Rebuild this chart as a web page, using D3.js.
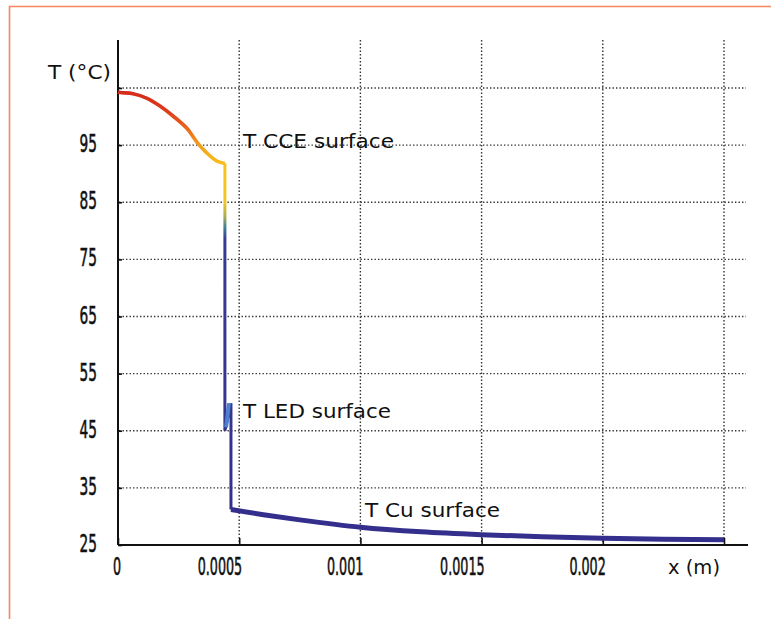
<!DOCTYPE html>
<html>
<head>
<meta charset="utf-8">
<script src="https://cdn.jsdelivr.net/npm/d3@7"></script>
<style>
  body { margin: 0; background: #fff; }
  text { font-family: "DejaVu Sans", sans-serif; fill: #111; }
</style>
</head>
<body>
<script>
/* data: x in metres, T in degrees C */
var cceX = [0, 0.0000083, 0.000062, 0.00012, 0.000173, 0.000227, 0.000285, 0.000326, 0.000367, 0.000408, 0.000441];
var cceT = [104.3, 104.2, 104.0, 103.2, 101.85, 100.1, 97.9, 95.5, 93.6, 92.2, 91.8];
var dropX = [0.000441, 0.000441, 0.000466, 0.000466];
var dropT = [91.8, 45.0, 49.8, 31.2];
var ledX = [0.000446, 0.000458];
var ledT = [45.6, 49.8];
var cuX = [0.000466, 0.0006, 0.00075, 0.001, 0.00125, 0.0015, 0.00175, 0.002, 0.00225, 0.0025];
var cuT = [31.2, 30.3, 29.4, 28.1, 27.3, 26.8, 26.45, 26.2, 26.0, 25.9];

var xTicks = [0, 0.0005, 0.001, 0.0015, 0.002, 0.0025];
var xTickLabels = ["0", "0.0005", "0.001", "0.0015", "0.002", ""];
var yTicks = [25, 35, 45, 55, 65, 75, 85, 95, 105];
var yTickLabels = ["25", "35", "45", "55", "65", "75", "85", "95", ""];

/* temperature colour map along the curve */
var mapT = [25, 78.5, 80.5, 82.5, 85, 91, 93, 95.5, 98, 101, 105];
var mapC = ["#342f8c", "#363a92", "#3d7c9c", "#a8ae52", "#f2c626", "#f7c41e", "#f5b41c", "#f0981c", "#e8661a", "#dc3a1b", "#d4281c"];

var w = 771, h = 619;

var svg = d3.select("body").append("svg")
    .attr("width", w)
    .attr("height", h);

/* orange frame of the figure */
svg.append("path")
    .attr("d", "M9.5,619V6.5H771")
    .attr("fill", "none")
    .attr("stroke", "#f4855c")
    .attr("stroke-width", 1.6);

var x = d3.scaleLinear().domain([0, 0.0025]).range([118, 724]);
var y = d3.scaleLinear().domain([25, 105]).range([545, 88]);

/* dotted grid */
svg.append("g").selectAll("line").data(yTicks.slice(1)).enter().append("line")
    .attr("x1", 119).attr("x2", 746)
    .attr("y1", function(d) { return y(d); })
    .attr("y2", function(d) { return y(d); })
    .attr("stroke", "#333")
    .attr("stroke-width", 1.4)
    .attr("stroke-dasharray", "1.4,2.1");

svg.append("g").selectAll("line").data(xTicks.slice(1)).enter().append("line")
    .attr("x1", function(d) { return x(d); })
    .attr("x2", function(d) { return x(d); })
    .attr("y1", 40).attr("y2", 545)
    .attr("stroke", "#333")
    .attr("stroke-width", 1.4)
    .attr("stroke-dasharray", "1.4,2.1");

/* axes */
var yAxis = d3.axisLeft(y).tickValues(yTicks).tickSize(-4).tickFormat("");
var xAxis = d3.axisBottom(x).tickValues(xTicks).tickSize(-7).tickFormat("");

var gy = svg.append("g").attr("transform", "translate(118,0)").call(yAxis);
gy.select(".domain").attr("d", "M0,40V545");
var gx = svg.append("g").attr("transform", "translate(0,545)").call(xAxis);
gx.select(".domain").attr("d", "M118,0H748");
svg.selectAll(".domain").attr("stroke", "#111").attr("stroke-width", 2);
svg.selectAll(".tick line").attr("stroke", "#111").attr("stroke-width", 1.6);

/* squashed tick labels, like the original */
function squash(sel, k) {
    sel.each(function() {
        var len = this.getComputedTextLength();
        if (len > 0) d3.select(this).attr("textLength", len * k).attr("lengthAdjust", "spacingAndGlyphs");
    });
}

svg.append("g").selectAll("text").data(yTicks).enter().append("text")
    .attr("x", 97)
    .attr("y", function(d) { return y(d) + 7; })
    .attr("text-anchor", "end")
    .attr("font-family", "Liberation Sans")
    .attr("font-size", 24)
    .attr("stroke", "#111")
    .attr("stroke-width", 0.6)
    .text(function(d, i) { return yTickLabels[i]; })
    .call(squash, 0.57);

svg.append("g").selectAll("text").data(xTicks).enter().append("text")
    .attr("x", function(d) { return x(d) + 3; })
    .attr("y", 575)
    .attr("text-anchor", "end")
    .attr("font-family", "Liberation Sans")
    .attr("font-size", 24)
    .attr("stroke", "#111")
    .attr("stroke-width", 0.6)
    .text(function(d, i) { return xTickLabels[i]; })
    .call(squash, 0.53);

/* colour gradient keyed to temperature (vertical position) */
var grad = svg.append("defs").append("linearGradient")
    .attr("id", "tgrad")
    .attr("gradientUnits", "userSpaceOnUse")
    .attr("x1", 0).attr("x2", 0)
    .attr("y1", y(25)).attr("y2", y(105));
grad.selectAll("stop").data(mapT).enter().append("stop")
    .attr("offset", function(d) { return (d - 25) / 80; })
    .attr("stop-color", function(d, i) { return mapC[i]; });

var line = d3.line()
    .x(function(d) { return x(d[0]); })
    .y(function(d) { return y(d[1]); });

svg.append("path")
    .attr("d", line.curve(d3.curveCatmullRom.alpha(0.5))(d3.zip(cceX, cceT)))
    .attr("fill", "none")
    .attr("stroke", "url(#tgrad)")
    .attr("stroke-width", 3.6);

svg.append("path")
    .attr("d", line.curve(d3.curveLinear)(d3.zip(dropX, dropT)))
    .attr("fill", "none")
    .attr("stroke", "url(#tgrad)")
    .attr("stroke-width", 3);

svg.append("path")
    .attr("d", line.curve(d3.curveMonotoneX)(d3.zip(cuX, cuT)))
    .attr("fill", "none")
    .attr("stroke", "#342f8c")
    .attr("stroke-width", 5);

svg.append("path")
    .attr("d", line.curve(d3.curveLinear)(d3.zip(ledX, ledT)))
    .attr("fill", "none")
    .attr("stroke", "#4c80cf")
    .attr("stroke-width", 4);

/* labels */
function label(txt, lx, ly, len) {
    svg.append("text")
        .attr("x", lx).attr("y", ly)
        .attr("font-size", 20)
        .attr("textLength", len)
        .attr("lengthAdjust", "spacingAndGlyphs")
        .text(txt);
}
label("T (\u00B0C)", 48, 79, 63);
label("T CCE surface", 243, 148, 151);
label("T LED surface", 243, 418, 148);
label("T Cu surface", 365, 517, 135);
label("x (m)", 668, 574, 52);
</script>
</body>
</html>
